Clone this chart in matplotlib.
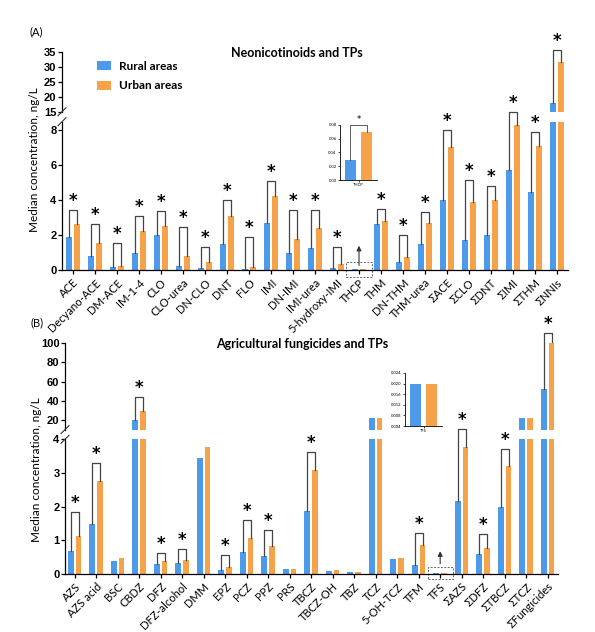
import matplotlib
matplotlib.use('Agg')
import matplotlib.pyplot as plt
import numpy as np

# Data (median concentration, ng/L)
neo_names = ['ACE', 'Decyano-ACE', 'DM-ACE', 'IM-1-4', 'CLO', 'CLO-urea', 'DN-CLO', 'DNT',
             'FLO', 'IMI', 'DN-IMI', 'IMI-urea', '5-hydroxy-IMI', 'THCP', 'THM', 'DN-THM',
             'THM-urea', 'ΣACE', 'ΣCLO', 'ΣDNT', 'ΣIMI', 'ΣTHM', 'ΣNNIs']
neo_rural = [1.9, 0.8, 0.19, 1.0, 2.0, 0.25, 0.1, 1.47, 0.03, 2.7, 1.0, 1.28, 0.13, 0.03,
             2.63, 0.46, 1.49, 4.0, 1.7, 2.02, 5.75, 4.47, 18.0]
neo_urban = [2.63, 1.56, 0.25, 2.25, 2.5, 0.78, 0.45, 3.1, 0.18, 4.25, 1.75, 2.4, 0.35, 0.07,
             2.82, 0.76, 2.7, 7.05, 3.9, 4.0, 8.3, 7.08, 31.5]
neo_sig = [3.43, 2.61, 1.56, 3.07, 3.39, 2.44, 1.33, 4.0, 1.9, 5.09, 3.43, 3.43, 1.3, None,
           3.47, 1.98, 3.31, 8.0, 5.18, 4.82, 15.0, 7.9, 35.6]

fun_names = ['AZS', 'AZS acid', 'BSC', 'CBDZ', 'DFZ', 'DFZ-alcohol', 'DMM', 'EPZ', 'PCZ', 'PPZ',
             'PRS', 'TBCZ', 'TBCZ-OH', 'TBZ', 'TCZ', '5-OH-TCZ', 'TFM', 'TFS', 'ΣAZS', 'ΣDFZ',
             'ΣTBCZ', 'ΣTCZ', 'ΣFungicides']
fun_rural = [0.69, 1.48, 0.39, 20.0, 0.3, 0.32, 3.43, 0.12, 0.65, 0.54, 0.14, 1.88, 0.09, 0.06,
             21.8, 0.44, 0.28, 0.02, 2.17, 0.59, 2.0, 21.8, 52.0]
fun_urban = [1.13, 2.76, 0.47, 29.4, 0.4, 0.41, 3.78, 0.22, 1.08, 0.84, 0.14, 3.09, 0.12, 0.05,
             21.8, 0.48, 0.86, 0.02, 3.76, 0.78, 3.21, 21.8, 101.0]
fun_sig = [1.83, 3.31, None, 44.3, 0.61, 0.74, None, 0.55, 1.6, 1.3, None, 3.61, None, None,
           None, None, 1.21, None, 4.3, 1.18, 3.7, None, 111.0]

thcp_inset = [0.029, 0.070]
tfs_inset = [0.020, 0.020]

BLUE = '#4d9aea'
ORANGE = '#f6a24b'
W, H = 595, 632

plt.rcParams['font.family'] = ['Lato', 'DejaVu Sans']
fig = plt.figure(figsize=(W / 100, H / 100), dpi=100)


def px(x0, y0, x1, y1):
    # pixel box (top-left origin) -> figure rect
    return [x0 / W, 1 - y1 / H, (x1 - x0) / W, (y1 - y0) / H]


def style_axis(ax, ticks):
    for s in ['top', 'right']:
        ax.spines[s].set_visible(False)
    ax.spines['left'].set_linewidth(0.9)
    ax.spines['bottom'].set_linewidth(0.9)
    ax.set_yticks(ticks)
    ax.tick_params(axis='y', length=3, width=0.9, labelsize=8, pad=1)
    for t in ax.get_yticklabels():
        t.set_fontweight('bold')
        t.set_family(['Liberation Sans', 'DejaVu Sans'])


def make_panel(names, rural, urban, sig, left, right, y0, lo_top, hi_bot, hi_top,
               lo_lim, hi_lim, lo_ticks, hi_ticks, xlim):
    ax_lo = fig.add_axes(px(left, lo_top, right, y0))
    ax_hi = fig.add_axes(px(left, hi_top, right, hi_bot))
    x = np.arange(len(names))
    bw, off = 0.27, 0.18
    for ax in (ax_lo, ax_hi):
        ax.bar(x - off, rural, bw, color=BLUE, label='Rural areas')
        ax.bar(x + off, urban, bw, color=ORANGE, label='Urban areas')
        ax.set_xlim(*xlim)
    ax_lo.set_ylim(*lo_lim)
    ax_hi.set_ylim(*hi_lim)
    style_axis(ax_lo, lo_ticks)
    style_axis(ax_hi, hi_ticks)
    ax_hi.spines['bottom'].set_visible(False)
    ax_hi.set_xticks([])
    ax_lo.set_xticks(x)
    ax_lo.set_xticklabels(names, rotation=45, ha='right', rotation_mode='anchor', fontsize=8)
    ax_lo.tick_params(axis='x', length=3, width=0.9, pad=2)

    # break marks on the y axis
    d = 4
    for yy in (lo_top, hi_bot):
        fig.add_artist(plt.Line2D([(left - d) / W, (left + d) / W],
                                  [1 - (yy + d) / H, 1 - (yy - d) / H],
                                  transform=fig.transFigure, color='#333333', lw=0.8))

    inv = fig.transFigure.inverted()

    def fy(xv, v):
        ax = ax_lo if v < hi_lim[0] else ax_hi
        return inv.transform(ax.transData.transform((xv, v)))

    for i, h in enumerate(sig):
        if h is None:
            continue
        xl, xr = i - off, i + off
        pl0 = fy(xl, rural[i])
        pr0 = fy(xr, urban[i])
        pl1 = fy(xl, h)
        pr1 = fy(xr, h)
        fig.add_artist(plt.Line2D([pl0[0], pl1[0], pr1[0], pr0[0]],
                                  [pl0[1], pl1[1], pr1[1], pr0[1]],
                                  transform=fig.transFigure, color='#444444', lw=0.9))
        fig.text((pl1[0] + pr1[0]) / 2, pl1[1] + 9 / H, '*', ha='center', va='center',
                 fontsize=12, fontweight='bold', family='DejaVu Sans')
    return ax_lo, ax_hi


# Panel A
a_lo, a_hi = make_panel(neo_names, neo_rural, neo_urban, neo_sig, 62, 568, 270, 121.7, 111.7,
                        51.7, (0, 8.5), (15, 35), [0, 2, 4, 6, 8], [15, 20, 25, 30, 35],
                        (-0.5, 22.5))
# Panel B
b_lo, b_hi = make_panel(fun_names, fun_rural, fun_urban, fun_sig, 65, 558, 574, 439.3, 429.6,
                        343.3, (0, 4), (10, 100), [0, 1, 2, 3, 4], [20, 40, 60, 80, 100],
                        (-0.45, 22.48))

# dashed boxes and arrows for tiny values
for ax, idx, box_y, arr in ((a_lo, 13, (-0.4, 0.46), (0.11, 1.55)),
                            (b_lo, 17, (-0.15, 0.21), (0.22, 0.76))):
    ax.add_patch(plt.Rectangle((idx - 0.58, box_y[0]), 1.16, box_y[1] - box_y[0], fill=False,
                               ls=(0, (2, 1.5)), lw=0.7, ec='#666666', clip_on=False))
    ax.annotate('', xy=(idx, arr[1]), xytext=(idx, arr[0]),
                arrowprops=dict(arrowstyle='-|>', color='#333333', lw=0.8,
                                mutation_scale=7), annotation_clip=False)

# Insets
for rect, vals, lim, ticks, lab, sig in ((px(340, 125, 377, 180), thcp_inset, (0, 0.08),
                                          [0, 0.02, 0.04, 0.06, 0.08], 'THCP', 0.08),
                                         (px(405, 373, 442, 426), tfs_inset, (0.004, 0.024),
                                          [0.004, 0.008, 0.012, 0.016, 0.020, 0.024], 'TFS', None)):
    ia = fig.add_axes(rect)
    ia.bar([0.28, 0.72], vals, 0.3, color=[BLUE, ORANGE])
    ia.set_xlim(0, 1)
    ia.set_ylim(*lim)
    ia.set_yticks(ticks)
    ia.set_yticklabels(['%.2f' % t if lab == 'THCP' else '%.3f' % t for t in ticks])
    ia.set_xticks([0.5])
    ia.set_xticklabels([lab])
    ia.tick_params(labelsize=3, length=1.5, width=0.5, pad=1)
    for s in ['top', 'right']:
        ia.spines[s].set_visible(False)
    for s in ['left', 'bottom']:
        ia.spines[s].set_linewidth(0.6)
    if sig is not None:
        ia.plot([0.28, 0.28, 0.72, 0.72], [vals[0], sig, sig, vals[1]], color='#444444',
                lw=0.6, clip_on=False)
        ia.text(0.5, sig * 1.02, '*', ha='center', va='bottom', fontsize=6,
                family='DejaVu Sans')

# Legend, titles, labels
fig.legend(*a_lo.get_legend_handles_labels(), loc='center left',
           bbox_to_anchor=(86 / W, 1 - 76 / H), frameon=False,
           handlelength=1.2, handleheight=0.8, handletextpad=0.7, labelspacing=0.7,
           prop={'weight': 'bold', 'size': 8.5, 'family': 'Lato'})
fig.text(297 / W, 1 - 53 / H, 'Neonicotinoids and TPs', ha='center', va='center',
         fontsize=9, fontweight='bold')
fig.text(302 / W, 1 - 344 / H, 'Agricultural fungicides and TPs', ha='center', va='center',
         fontsize=9, fontweight='bold')
fig.text(36 / W, 1 - 32 / H, '(A)', ha='center', va='center', fontsize=8)
fig.text(37 / W, 1 - 323 / H, '(B)', ha='center', va='center', fontsize=8)
fig.text(35 / W, 1 - 160 / H, 'Median concentration, ng/L', rotation=90, ha='center',
         va='center', fontsize=8.5)
fig.text(37 / W, 1 - 470 / H, 'Median concentration, ng/L', rotation=90, ha='center',
         va='center', fontsize=8.5)

fig.savefig('out.png', dpi=100)
